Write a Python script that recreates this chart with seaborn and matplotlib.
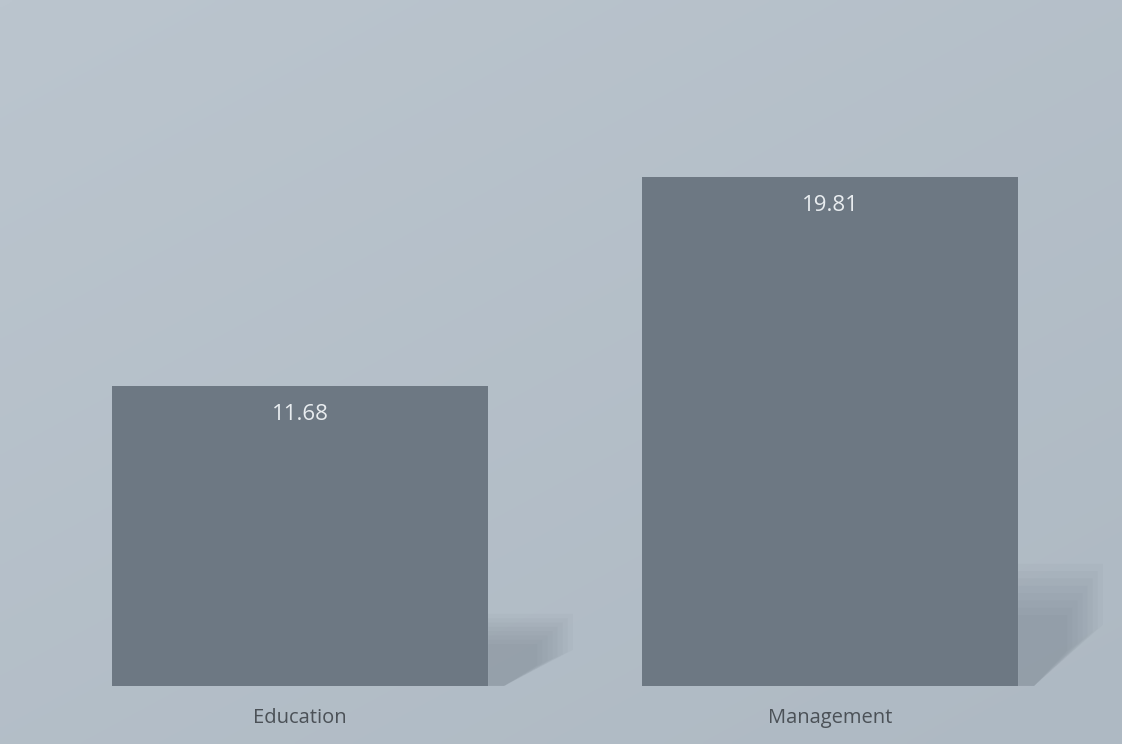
import numpy as np
import pandas as pd
import matplotlib
matplotlib.use("Agg")
import matplotlib.pyplot as plt
from matplotlib.patches import Polygon
import seaborn as sns

# Chart data
categories = ["Education", "Management"]
values = [11.68, 19.81]
value_labels = ["11.68", "19.81"]

sns.set_theme(style="white")
plt.rcParams["font.family"] = ["Open Sans", "DejaVu Sans"]

bg_color = "#b4bfc9"
bar_color = "#6d7883"
label_color = "#e9edf0"
tick_color = "#4b5157"

fig = plt.figure(figsize=(11.22, 7.44), dpi=100, facecolor=bg_color)
ax = fig.add_axes([0, 0, 1, 1])
ax.set_facecolor(bg_color)

# Soft background shading, lighter toward the upper left
gy, gx = np.mgrid[0:1:200j, 0:1:300j]
shade = 0.55 * gy + 0.45 * gx
ax.imshow(shade, extent=[0, 1, 0, 1], transform=ax.transAxes, origin="upper",
          cmap=matplotlib.colors.LinearSegmentedColormap.from_list(
              "bg", ["#bbc5ce", "#aeb9c3"]),
          aspect="auto", zorder=0, interpolation="bilinear")

df = pd.DataFrame({"category": categories, "value": values})
sns.barplot(data=df, x="category", y="value", color=bar_color, saturation=1,
            width=0.71, ax=ax, zorder=3, edgecolor="none")

# Soft drop shadows cast to the right of each bar, sized from the bar itself
for patch, v in zip(ax.patches, values):
    x1 = patch.get_x() + patch.get_width()
    hs = 0.24 * v
    w = 0.16
    for k in range(8):
        f = 1 - k * 0.06
        shadow = Polygon([(x1, 0), (x1, hs * f), (x1 + w * f, hs * f),
                          (x1 + w * f, hs * f * 0.5), (x1 + 0.03, 0)],
                         closed=True, facecolor="#5d6873", alpha=0.045,
                         edgecolor="none", zorder=2)
        ax.add_patch(shadow)

# Value labels inside the top of each bar
for i, (v, txt) in enumerate(zip(values, value_labels)):
    ax.text(i, v - 1.12, txt, ha="center", va="center", fontsize=16,
            color=label_color, zorder=4)

# Category names below the bars
for i, name in enumerate(categories):
    ax.text(i, -1.25, name, ha="center", va="center", fontsize=14.5,
            color=tick_color, zorder=4)

ax.set_xlim(-0.566, 1.551)
ax.set_ylim(-2.26, 26.69)
ax.set_xlabel("")
ax.set_ylabel("")
ax.set_xticks([])
ax.set_yticks([])
for s in ax.spines.values():
    s.set_visible(False)

fig.savefig("out.png", dpi=100, facecolor=bg_color)
